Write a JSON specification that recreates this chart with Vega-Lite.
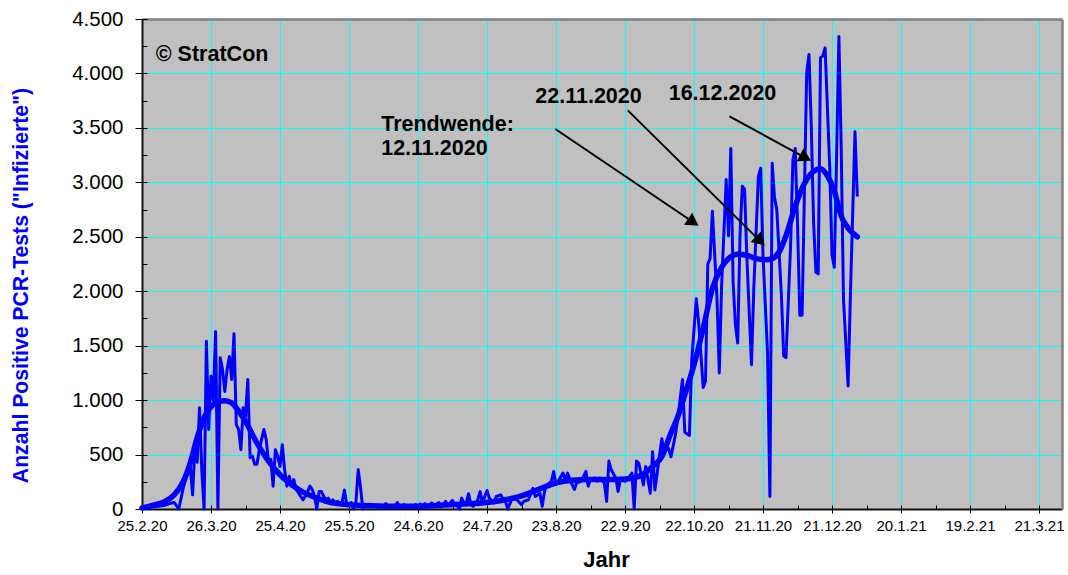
{
  "$schema": "https://vega.github.io/schema/vega-lite/v6.json",
  "width": 920,
  "height": 490,
  "autosize": {"type": "none"},
  "padding": {"left": 142, "top": 19, "right": 6, "bottom": 66},
  "background": "white",
  "config": {
    "view": {"fill": "#c0c0c0", "stroke": null},
    "font": "Liberation Sans"
  },
  "datasets": {
    "daily": [
      {"date": "2020-02-25", "cases": 10}, {"date": "2020-02-28", "cases": 15}, {"date": "2020-03-03", "cases": 25},
      {"date": "2020-03-06", "cases": 35}, {"date": "2020-03-08", "cases": 50}, {"date": "2020-03-10", "cases": 60},
      {"date": "2020-03-12", "cases": 0}, {"date": "2020-03-14", "cases": 200}, {"date": "2020-03-15", "cases": 270},
      {"date": "2020-03-17", "cases": 390}, {"date": "2020-03-18", "cases": 130}, {"date": "2020-03-19", "cases": 575},
      {"date": "2020-03-20", "cases": 430}, {"date": "2020-03-21", "cases": 930}, {"date": "2020-03-22", "cases": 350},
      {"date": "2020-03-23", "cases": 0}, {"date": "2020-03-24", "cases": 1540}, {"date": "2020-03-25", "cases": 730},
      {"date": "2020-03-26", "cases": 1220}, {"date": "2020-03-27", "cases": 1000}, {"date": "2020-03-28", "cases": 1630},
      {"date": "2020-03-29", "cases": 0}, {"date": "2020-03-30", "cases": 1390}, {"date": "2020-03-31", "cases": 1280},
      {"date": "2020-04-01", "cases": 1080}, {"date": "2020-04-02", "cases": 1280}, {"date": "2020-04-03", "cases": 1400},
      {"date": "2020-04-04", "cases": 1190}, {"date": "2020-04-05", "cases": 1610}, {"date": "2020-04-06", "cases": 775},
      {"date": "2020-04-07", "cases": 730}, {"date": "2020-04-08", "cases": 545}, {"date": "2020-04-09", "cases": 930},
      {"date": "2020-04-10", "cases": 850}, {"date": "2020-04-11", "cases": 1190}, {"date": "2020-04-12", "cases": 470},
      {"date": "2020-04-13", "cases": 485}, {"date": "2020-04-14", "cases": 410}, {"date": "2020-04-15", "cases": 410},
      {"date": "2020-04-16", "cases": 545}, {"date": "2020-04-17", "cases": 640}, {"date": "2020-04-18", "cases": 730},
      {"date": "2020-04-19", "cases": 640}, {"date": "2020-04-20", "cases": 425}, {"date": "2020-04-21", "cases": 455},
      {"date": "2020-04-22", "cases": 210}, {"date": "2020-04-23", "cases": 545}, {"date": "2020-04-24", "cases": 485},
      {"date": "2020-04-25", "cases": 390}, {"date": "2020-04-26", "cases": 590}, {"date": "2020-04-27", "cases": 360},
      {"date": "2020-04-28", "cases": 210}, {"date": "2020-04-29", "cases": 300}, {"date": "2020-04-30", "cases": 210},
      {"date": "2020-05-01", "cases": 270}, {"date": "2020-05-02", "cases": 180}, {"date": "2020-05-03", "cases": 150},
      {"date": "2020-05-04", "cases": 115}, {"date": "2020-05-05", "cases": 85}, {"date": "2020-05-06", "cases": 115},
      {"date": "2020-05-07", "cases": 160}, {"date": "2020-05-08", "cases": 210}, {"date": "2020-05-09", "cases": 180},
      {"date": "2020-05-10", "cases": 115}, {"date": "2020-05-11", "cases": 0}, {"date": "2020-05-12", "cases": 160},
      {"date": "2020-05-13", "cases": 160}, {"date": "2020-05-14", "cases": 115}, {"date": "2020-05-15", "cases": 85},
      {"date": "2020-05-16", "cases": 100}, {"date": "2020-05-17", "cases": 55}, {"date": "2020-05-18", "cases": 85},
      {"date": "2020-05-19", "cases": 55}, {"date": "2020-05-20", "cases": 70}, {"date": "2020-05-21", "cases": 40},
      {"date": "2020-05-22", "cases": 60}, {"date": "2020-05-23", "cases": 175}, {"date": "2020-05-24", "cases": 40},
      {"date": "2020-05-25", "cases": 30}, {"date": "2020-05-26", "cases": 60}, {"date": "2020-05-27", "cases": 0},
      {"date": "2020-05-28", "cases": 60}, {"date": "2020-05-29", "cases": 360}, {"date": "2020-05-30", "cases": 200},
      {"date": "2020-05-31", "cases": 0}, {"date": "2020-06-01", "cases": 40}, {"date": "2020-06-02", "cases": 30},
      {"date": "2020-06-03", "cases": 45}, {"date": "2020-06-04", "cases": 20}, {"date": "2020-06-05", "cases": 30},
      {"date": "2020-06-06", "cases": 25}, {"date": "2020-06-07", "cases": 15}, {"date": "2020-06-08", "cases": 35},
      {"date": "2020-06-09", "cases": 20}, {"date": "2020-06-10", "cases": 50}, {"date": "2020-06-11", "cases": 30},
      {"date": "2020-06-12", "cases": 20}, {"date": "2020-06-13", "cases": 15}, {"date": "2020-06-14", "cases": 25},
      {"date": "2020-06-15", "cases": 60}, {"date": "2020-06-16", "cases": 20}, {"date": "2020-06-17", "cases": 30},
      {"date": "2020-06-18", "cases": 40}, {"date": "2020-06-19", "cases": 15}, {"date": "2020-06-20", "cases": 25},
      {"date": "2020-06-21", "cases": 35}, {"date": "2020-06-22", "cases": 30}, {"date": "2020-06-23", "cases": 40},
      {"date": "2020-06-24", "cases": 20}, {"date": "2020-06-25", "cases": 45}, {"date": "2020-06-26", "cases": 30},
      {"date": "2020-06-27", "cases": 50}, {"date": "2020-06-28", "cases": 25}, {"date": "2020-06-29", "cases": 40},
      {"date": "2020-06-30", "cases": 55}, {"date": "2020-07-01", "cases": 30}, {"date": "2020-07-02", "cases": 45},
      {"date": "2020-07-03", "cases": 60}, {"date": "2020-07-04", "cases": 20}, {"date": "2020-07-05", "cases": 40},
      {"date": "2020-07-06", "cases": 70}, {"date": "2020-07-07", "cases": 35}, {"date": "2020-07-08", "cases": 55},
      {"date": "2020-07-09", "cases": 80}, {"date": "2020-07-10", "cases": 40}, {"date": "2020-07-11", "cases": 30},
      {"date": "2020-07-12", "cases": 0}, {"date": "2020-07-13", "cases": 100}, {"date": "2020-07-14", "cases": 50},
      {"date": "2020-07-15", "cases": 60}, {"date": "2020-07-16", "cases": 140}, {"date": "2020-07-17", "cases": 40},
      {"date": "2020-07-18", "cases": 25}, {"date": "2020-07-20", "cases": 85}, {"date": "2020-07-21", "cases": 160},
      {"date": "2020-07-22", "cases": 55}, {"date": "2020-07-24", "cases": 170}, {"date": "2020-07-25", "cases": 100},
      {"date": "2020-07-27", "cases": 55}, {"date": "2020-07-28", "cases": 115}, {"date": "2020-07-30", "cases": 130},
      {"date": "2020-07-31", "cases": 85}, {"date": "2020-08-01", "cases": 70}, {"date": "2020-08-02", "cases": 0},
      {"date": "2020-08-04", "cases": 100}, {"date": "2020-08-06", "cases": 85}, {"date": "2020-08-08", "cases": 40},
      {"date": "2020-08-09", "cases": 70}, {"date": "2020-08-11", "cases": 85}, {"date": "2020-08-13", "cases": 190},
      {"date": "2020-08-14", "cases": 115}, {"date": "2020-08-16", "cases": 145}, {"date": "2020-08-17", "cases": 25},
      {"date": "2020-08-18", "cases": 160}, {"date": "2020-08-19", "cases": 220}, {"date": "2020-08-21", "cases": 255},
      {"date": "2020-08-22", "cases": 345}, {"date": "2020-08-23", "cases": 225}, {"date": "2020-08-24", "cases": 255},
      {"date": "2020-08-26", "cases": 330}, {"date": "2020-08-27", "cases": 270}, {"date": "2020-08-28", "cases": 330},
      {"date": "2020-08-30", "cases": 225}, {"date": "2020-08-31", "cases": 180}, {"date": "2020-09-01", "cases": 240},
      {"date": "2020-09-03", "cases": 255}, {"date": "2020-09-05", "cases": 345}, {"date": "2020-09-06", "cases": 210},
      {"date": "2020-09-07", "cases": 270}, {"date": "2020-09-09", "cases": 285}, {"date": "2020-09-10", "cases": 255},
      {"date": "2020-09-11", "cases": 285}, {"date": "2020-09-13", "cases": 240}, {"date": "2020-09-14", "cases": 70},
      {"date": "2020-09-15", "cases": 440}, {"date": "2020-09-16", "cases": 360}, {"date": "2020-09-18", "cases": 285},
      {"date": "2020-09-19", "cases": 160}, {"date": "2020-09-20", "cases": 270}, {"date": "2020-09-22", "cases": 255},
      {"date": "2020-09-23", "cases": 270}, {"date": "2020-09-25", "cases": 330}, {"date": "2020-09-26", "cases": 0},
      {"date": "2020-09-27", "cases": 440}, {"date": "2020-09-28", "cases": 420}, {"date": "2020-09-30", "cases": 220},
      {"date": "2020-10-01", "cases": 390}, {"date": "2020-10-03", "cases": 145}, {"date": "2020-10-04", "cases": 525},
      {"date": "2020-10-05", "cases": 175}, {"date": "2020-10-06", "cases": 330}, {"date": "2020-10-08", "cases": 645},
      {"date": "2020-10-09", "cases": 540}, {"date": "2020-10-11", "cases": 555}, {"date": "2020-10-12", "cases": 480},
      {"date": "2020-10-14", "cases": 690}, {"date": "2020-10-15", "cases": 840}, {"date": "2020-10-17", "cases": 1190},
      {"date": "2020-10-18", "cases": 705}, {"date": "2020-10-20", "cases": 675}, {"date": "2020-10-21", "cases": 1360},
      {"date": "2020-10-23", "cases": 1930}, {"date": "2020-10-24", "cases": 1720}, {"date": "2020-10-26", "cases": 1115},
      {"date": "2020-10-27", "cases": 1175}, {"date": "2020-10-28", "cases": 2250}, {"date": "2020-10-29", "cases": 2300},
      {"date": "2020-10-30", "cases": 2735}, {"date": "2020-11-01", "cases": 1930}, {"date": "2020-11-02", "cases": 1250},
      {"date": "2020-11-03", "cases": 2050}, {"date": "2020-11-05", "cases": 3025}, {"date": "2020-11-06", "cases": 2510},
      {"date": "2020-11-07", "cases": 3310}, {"date": "2020-11-08", "cases": 2085}, {"date": "2020-11-09", "cases": 1690},
      {"date": "2020-11-10", "cases": 1525}, {"date": "2020-11-11", "cases": 2510}, {"date": "2020-11-12", "cases": 2965},
      {"date": "2020-11-13", "cases": 2935}, {"date": "2020-11-14", "cases": 2300}, {"date": "2020-11-16", "cases": 1325},
      {"date": "2020-11-17", "cases": 2025}, {"date": "2020-11-19", "cases": 3055}, {"date": "2020-11-20", "cases": 3130},
      {"date": "2020-11-21", "cases": 2330}, {"date": "2020-11-23", "cases": 1420}, {"date": "2020-11-24", "cases": 115},
      {"date": "2020-11-25", "cases": 3175}, {"date": "2020-11-26", "cases": 2860}, {"date": "2020-11-27", "cases": 2750},
      {"date": "2020-11-29", "cases": 1965}, {"date": "2020-11-30", "cases": 1405}, {"date": "2020-12-01", "cases": 1390},
      {"date": "2020-12-03", "cases": 2420}, {"date": "2020-12-04", "cases": 3205}, {"date": "2020-12-05", "cases": 3310},
      {"date": "2020-12-06", "cases": 2630}, {"date": "2020-12-07", "cases": 1780}, {"date": "2020-12-08", "cases": 1780},
      {"date": "2020-12-10", "cases": 4010}, {"date": "2020-12-11", "cases": 4175}, {"date": "2020-12-12", "cases": 3510},
      {"date": "2020-12-13", "cases": 2630}, {"date": "2020-12-14", "cases": 2175}, {"date": "2020-12-15", "cases": 2160},
      {"date": "2020-12-16", "cases": 4145}, {"date": "2020-12-17", "cases": 4160}, {"date": "2020-12-18", "cases": 4235},
      {"date": "2020-12-20", "cases": 3145}, {"date": "2020-12-21", "cases": 2330}, {"date": "2020-12-22", "cases": 2220},
      {"date": "2020-12-23", "cases": 3235}, {"date": "2020-12-24", "cases": 4340}, {"date": "2020-12-25", "cases": 3325},
      {"date": "2020-12-26", "cases": 1930}, {"date": "2020-12-28", "cases": 1130}, {"date": "2020-12-29", "cases": 1965},
      {"date": "2020-12-31", "cases": 3465}, {"date": "2021-01-01", "cases": 2870}
    ],
    "trend": [
      {"date": "2020-02-25", "trend": 10}, {"date": "2020-03-01", "trend": 35}, {"date": "2020-03-06", "trend": 70},
      {"date": "2020-03-10", "trend": 130}, {"date": "2020-03-14", "trend": 255}, {"date": "2020-03-17", "trend": 425},
      {"date": "2020-03-20", "trend": 655}, {"date": "2020-03-23", "trend": 840}, {"date": "2020-03-26", "trend": 940},
      {"date": "2020-03-29", "trend": 985}, {"date": "2020-04-01", "trend": 995}, {"date": "2020-04-04", "trend": 975},
      {"date": "2020-04-07", "trend": 900}, {"date": "2020-04-10", "trend": 805}, {"date": "2020-04-15", "trend": 605},
      {"date": "2020-04-20", "trend": 440}, {"date": "2020-04-25", "trend": 315}, {"date": "2020-04-30", "trend": 225},
      {"date": "2020-05-05", "trend": 155}, {"date": "2020-05-10", "trend": 110}, {"date": "2020-05-15", "trend": 70},
      {"date": "2020-05-20", "trend": 50}, {"date": "2020-05-25", "trend": 40}, {"date": "2020-06-04", "trend": 30},
      {"date": "2020-06-14", "trend": 25}, {"date": "2020-06-24", "trend": 25}, {"date": "2020-07-04", "trend": 35},
      {"date": "2020-07-14", "trend": 45}, {"date": "2020-07-24", "trend": 60}, {"date": "2020-08-01", "trend": 85},
      {"date": "2020-08-08", "trend": 120}, {"date": "2020-08-13", "trend": 160}, {"date": "2020-08-19", "trend": 210},
      {"date": "2020-08-23", "trend": 240}, {"date": "2020-08-30", "trend": 265}, {"date": "2020-09-07", "trend": 270},
      {"date": "2020-09-14", "trend": 270}, {"date": "2020-09-22", "trend": 275}, {"date": "2020-09-28", "trend": 300},
      {"date": "2020-10-04", "trend": 390}, {"date": "2020-10-08", "trend": 480}, {"date": "2020-10-12", "trend": 700},
      {"date": "2020-10-15", "trend": 850}, {"date": "2020-10-18", "trend": 1050}, {"date": "2020-10-22", "trend": 1325},
      {"date": "2020-10-26", "trend": 1660}, {"date": "2020-10-30", "trend": 2025}, {"date": "2020-11-03", "trend": 2220},
      {"date": "2020-11-06", "trend": 2300}, {"date": "2020-11-10", "trend": 2340}, {"date": "2020-11-14", "trend": 2330},
      {"date": "2020-11-18", "trend": 2300}, {"date": "2020-11-22", "trend": 2290}, {"date": "2020-11-25", "trend": 2300},
      {"date": "2020-11-28", "trend": 2360}, {"date": "2020-12-01", "trend": 2510}, {"date": "2020-12-05", "trend": 2780},
      {"date": "2020-12-09", "trend": 2990}, {"date": "2020-12-13", "trend": 3100}, {"date": "2020-12-16", "trend": 3125},
      {"date": "2020-12-19", "trend": 3060}, {"date": "2020-12-22", "trend": 2920}, {"date": "2020-12-25", "trend": 2690},
      {"date": "2020-12-28", "trend": 2580}, {"date": "2021-01-01", "trend": 2500}
    ],
    "notes": [
      {"date": "2020-03-02", "value": 4113, "label": "© StratCon"},
      {"date": "2020-06-08", "value": 3470, "label": "Trendwende:"},
      {"date": "2020-06-08", "value": 3254, "label": "12.11.2020"},
      {"date": "2020-08-14", "value": 3729, "label": "22.11.2020"},
      {"date": "2020-10-11", "value": 3759, "label": "16.12.2020"}
    ],
    "arrows": [
      {"id": 1, "date": "2020-08-22T17:00:00Z", "value": 3490, "date2": "2020-10-21T17:00:00Z", "value2": 2633},
      {"id": 2, "date": "2020-09-23T05:00:00Z", "value": 3661, "date2": "2020-11-19T19:00:00Z", "value2": 2460},
      {"id": 3, "date": "2020-11-06T10:00:00Z", "value": 3606, "date2": "2020-12-09T12:00:00Z", "value2": 3225}
    ]
  },
  "resolve": {"axis": {"x": "independent", "y": "independent"}},
  "layer": [
    {
      "data": {"name": "daily"},
      "mark": {"type": "line", "color": "#0000ff", "strokeWidth": 3, "strokeJoin": "round"},
      "encoding": {
        "x": {
          "field": "date", "type": "temporal",
          "scale": {"type": "utc", "nice": false, "domain": [{"year": 2020, "month": 2, "date": 25, "utc": true}, {"year": 2021, "month": 3, "date": 31, "utc": true}]},
          "axis": {
            "orient": "bottom",
            "values": [
              {"year": 2020, "month": 2, "date": 25, "utc": true}, {"year": 2020, "month": 3, "date": 26, "utc": true},
              {"year": 2020, "month": 4, "date": 25, "utc": true}, {"year": 2020, "month": 5, "date": 25, "utc": true},
              {"year": 2020, "month": 6, "date": 24, "utc": true}, {"year": 2020, "month": 7, "date": 24, "utc": true},
              {"year": 2020, "month": 8, "date": 23, "utc": true}, {"year": 2020, "month": 9, "date": 22, "utc": true},
              {"year": 2020, "month": 10, "date": 22, "utc": true}, {"year": 2020, "month": 11, "date": 21, "utc": true},
              {"year": 2020, "month": 12, "date": 21, "utc": true}, {"year": 2021, "month": 1, "date": 20, "utc": true},
              {"year": 2021, "month": 2, "date": 19, "utc": true}, {"year": 2021, "month": 3, "date": 21, "utc": true}
            ],
            "format": "%-d.%-m.%y",
            "labelFont": "Liberation Sans", "labelFontSize": 15, "labelColor": "#000000",
            "labelPadding": 5, "labelOverlap": false, "labelFlush": false,
            "tickSize": 4, "tickColor": "#000000", "tickWidth": 1,
            "domainColor": "#111111", "domainWidth": 2,
            "grid": true, "gridColor": "#00ffff", "gridWidth": 1, "gridOpacity": 1,
            "title": "Jahr", "titleFont": "Liberation Sans", "titleFontSize": 22, "titleFontWeight": "bold",
            "titleColor": "#000000", "titleX": 464, "titleY": 57, "titleBaseline": "alphabetic", "titleAlign": "center"
          }
        },
        "y": {
          "field": "cases", "type": "quantitative",
          "scale": {"domain": [0, 4500], "nice": false},
          "axis": {
            "orient": "left",
            "values": [0, 500, 1000, 1500, 2000, 2500, 3000, 3500, 4000, 4500],
            "labelExpr": "replace(format(datum.value, ','), ',', '.')",
            "labelFont": "Liberation Sans", "labelFontSize": 20.5, "labelColor": "#000000", "labelPadding": 12,
            "tickSize": 7, "tickColor": "#000000", "tickWidth": 1,
            "domainColor": "#111111", "domainWidth": 2,
            "grid": true, "gridColor": "#00ffff", "gridWidth": 1, "gridOpacity": 1,
            "title": "Anzahl Positive PCR-Tests (\"Infizierte\")",
            "titleFont": "Liberation Sans", "titleFontSize": 21.2, "titleFontWeight": "bold", "titleColor": "#0000ff",
            "titleAngle": -90, "titleX": -121, "titleY": 266, "titleBaseline": "middle", "titleAlign": "center"
          }
        }
      }
    },
    {
      "data": {"name": "trend"},
      "mark": {"type": "line", "color": "#0000ff", "strokeWidth": 5.5, "interpolate": "monotone", "strokeCap": "round"},
      "encoding": {
        "x": {
          "field": "date", "type": "temporal",
          "scale": {"type": "utc", "nice": false, "domain": [{"year": 2020, "month": 2, "date": 25, "utc": true}, {"year": 2021, "month": 3, "date": 31, "utc": true}]},
          "axis": {
            "orient": "bottom",
            "values": [
              {"year": 2020, "month": 2, "date": 25, "utc": true}, {"year": 2020, "month": 3, "date": 11, "utc": true},
              {"year": 2020, "month": 3, "date": 26, "utc": true}, {"year": 2020, "month": 4, "date": 10, "utc": true},
              {"year": 2020, "month": 4, "date": 25, "utc": true}, {"year": 2020, "month": 5, "date": 10, "utc": true},
              {"year": 2020, "month": 5, "date": 25, "utc": true}, {"year": 2020, "month": 6, "date": 9, "utc": true},
              {"year": 2020, "month": 6, "date": 24, "utc": true}, {"year": 2020, "month": 7, "date": 9, "utc": true},
              {"year": 2020, "month": 7, "date": 24, "utc": true}, {"year": 2020, "month": 8, "date": 8, "utc": true},
              {"year": 2020, "month": 8, "date": 23, "utc": true}, {"year": 2020, "month": 9, "date": 7, "utc": true},
              {"year": 2020, "month": 9, "date": 22, "utc": true}, {"year": 2020, "month": 10, "date": 7, "utc": true},
              {"year": 2020, "month": 10, "date": 22, "utc": true}, {"year": 2020, "month": 11, "date": 6, "utc": true},
              {"year": 2020, "month": 11, "date": 21, "utc": true}, {"year": 2020, "month": 12, "date": 6, "utc": true},
              {"year": 2020, "month": 12, "date": 21, "utc": true}, {"year": 2021, "month": 1, "date": 5, "utc": true},
              {"year": 2021, "month": 1, "date": 20, "utc": true}, {"year": 2021, "month": 2, "date": 4, "utc": true},
              {"year": 2021, "month": 2, "date": 19, "utc": true}, {"year": 2021, "month": 3, "date": 6, "utc": true},
              {"year": 2021, "month": 3, "date": 21, "utc": true}
            ],
            "labels": false, "domain": false, "grid": false,
            "tickSize": -4, "tickColor": "#000000", "tickWidth": 1, "title": null
          }
        },
        "y": {
          "field": "trend", "type": "quantitative",
          "scale": {"domain": [0, 4500], "nice": false},
          "axis": {
            "orient": "left",
            "values": [0, 250, 500, 750, 1000, 1250, 1500, 1750, 2000, 2250, 2500, 2750, 3000, 3250, 3500, 3750, 4000, 4250, 4500],
            "labels": false, "domain": false, "grid": false,
            "tickSize": -5, "tickColor": "#000000", "tickWidth": 1, "title": null
          }
        }
      }
    },
    {
      "data": {"name": "notes"},
      "mark": {"type": "text", "align": "left", "baseline": "alphabetic", "font": "Liberation Sans", "fontSize": 21.5, "fontWeight": "bold", "color": "#000000"},
      "encoding": {
        "x": {
          "field": "date", "type": "temporal",
          "scale": {"type": "utc", "nice": false, "domain": [{"year": 2020, "month": 2, "date": 25, "utc": true}, {"year": 2021, "month": 3, "date": 31, "utc": true}]},
          "axis": {"orient": "top", "labels": false, "ticks": false, "grid": false, "domainColor": "#808080", "domainWidth": 2.5, "title": null}
        },
        "y": {
          "field": "value", "type": "quantitative",
          "scale": {"domain": [0, 4500], "nice": false},
          "axis": {"orient": "right", "labels": false, "ticks": false, "grid": false, "domainColor": "#808080", "domainWidth": 2.5, "title": null}
        },
        "text": {"field": "label", "type": "nominal"}
      }
    },
    {
      "data": {"name": "arrows"},
      "mark": {"type": "rule", "color": "#000000", "strokeWidth": 2},
      "encoding": {
        "x": {"field": "date", "type": "temporal", "axis": null,
          "scale": {"type": "utc", "nice": false, "domain": [{"year": 2020, "month": 2, "date": 25, "utc": true}, {"year": 2021, "month": 3, "date": 31, "utc": true}]}},
        "y": {"field": "value", "type": "quantitative", "axis": null, "scale": {"domain": [0, 4500], "nice": false}},
        "x2": {"field": "date2"},
        "y2": {"field": "value2"}
      }
    },
    {
      "data": {"name": "arrows"},
      "transform": [{"filter": "datum.id == 1"}],
      "mark": {"type": "point", "shape": "triangle-up", "filled": true, "color": "#000000", "opacity": 1, "size": 210, "angle": 124},
      "encoding": {
        "x": {"field": "date2", "type": "temporal", "axis": null,
          "scale": {"type": "utc", "nice": false, "domain": [{"year": 2020, "month": 2, "date": 25, "utc": true}, {"year": 2021, "month": 3, "date": 31, "utc": true}]}},
        "y": {"field": "value2", "type": "quantitative", "axis": null, "scale": {"domain": [0, 4500], "nice": false}}
      }
    },
    {
      "data": {"name": "arrows"},
      "transform": [{"filter": "datum.id == 2"}],
      "mark": {"type": "point", "shape": "triangle-up", "filled": true, "color": "#000000", "opacity": 1, "size": 210, "angle": 134.6},
      "encoding": {
        "x": {"field": "date2", "type": "temporal", "axis": null,
          "scale": {"type": "utc", "nice": false, "domain": [{"year": 2020, "month": 2, "date": 25, "utc": true}, {"year": 2021, "month": 3, "date": 31, "utc": true}]}},
        "y": {"field": "value2", "type": "quantitative", "axis": null, "scale": {"domain": [0, 4500], "nice": false}}
      }
    },
    {
      "data": {"name": "arrows"},
      "transform": [{"filter": "datum.id == 3"}],
      "mark": {"type": "point", "shape": "triangle-up", "filled": true, "color": "#000000", "opacity": 1, "size": 210, "angle": 118.5},
      "encoding": {
        "x": {"field": "date2", "type": "temporal", "axis": null,
          "scale": {"type": "utc", "nice": false, "domain": [{"year": 2020, "month": 2, "date": 25, "utc": true}, {"year": 2021, "month": 3, "date": 31, "utc": true}]}},
        "y": {"field": "value2", "type": "quantitative", "axis": null, "scale": {"domain": [0, 4500], "nice": false}}
      }
    }
  ]
}
